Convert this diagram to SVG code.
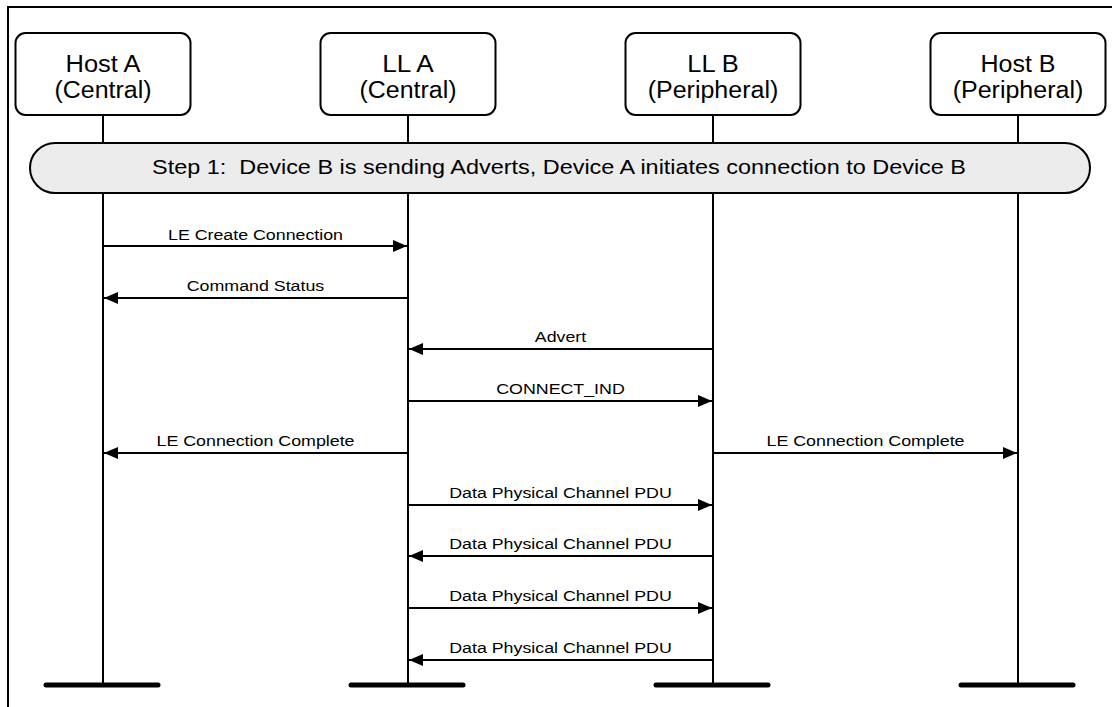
<svg xmlns="http://www.w3.org/2000/svg" width="1112" height="707" viewBox="0 0 1112 707">
<style>
.frame{fill:none;stroke:#000;stroke-width:2}
.box{fill:#fff;stroke:#000;stroke-width:2}
.life{stroke:#000;stroke-width:2}
.bar{stroke:#000;stroke-width:5;stroke-linecap:round}
.msg{stroke:#000;stroke-width:2;fill:none;marker-end:url(#ah)}
.t{font-family:"Liberation Sans",Arial,sans-serif;fill:#000;text-anchor:middle}
.nt{font-size:23px}
.bt{font-size:21px}
.mt{font-size:15.5px}
</style>
<defs>
<marker id="ah" viewBox="0 0 14 12" refX="14" refY="6" markerWidth="14" markerHeight="12" markerUnits="userSpaceOnUse" orient="auto">
<path d="M0,0 L14,6 L0,12 Z" fill="#000"/>
</marker>
</defs>
<rect width="1112" height="707" fill="#fff"/>
<path class="frame" d="M8,707 V7 H1112"/>
<g id="lifelines">
<line class="life" x1="103" y1="115" x2="103" y2="685"/>
<line class="life" x1="408" y1="115" x2="408" y2="685"/>
<line class="life" x1="713" y1="115" x2="713" y2="685"/>
<line class="life" x1="1018" y1="115" x2="1018" y2="685"/>
<line class="bar" x1="46" y1="685" x2="158" y2="685"/>
<line class="bar" x1="351" y1="685" x2="463" y2="685"/>
<line class="bar" x1="656" y1="685" x2="768" y2="685"/>
<line class="bar" x1="961" y1="685" x2="1073" y2="685"/>
</g>
<g id="hostA">
<rect class="box" x="15.5" y="33" width="175" height="82" rx="10"/>
<text class="t nt" x="103" y="71.5" textLength="75" lengthAdjust="spacingAndGlyphs">Host A</text>
<text class="t nt" x="103" y="98" textLength="97" lengthAdjust="spacingAndGlyphs">(Central)</text>
</g>
<g id="llA">
<rect class="box" x="320.5" y="33" width="175" height="82" rx="10"/>
<text class="t nt" x="408" y="71.5" textLength="51.4" lengthAdjust="spacingAndGlyphs">LL A</text>
<text class="t nt" x="408" y="98" textLength="97" lengthAdjust="spacingAndGlyphs">(Central)</text>
</g>
<g id="llB">
<rect class="box" x="625.5" y="33" width="175" height="82" rx="10"/>
<text class="t nt" x="713" y="71.5" textLength="51.4" lengthAdjust="spacingAndGlyphs">LL B</text>
<text class="t nt" x="713" y="98" textLength="130.6" lengthAdjust="spacingAndGlyphs">(Peripheral)</text>
</g>
<g id="hostB">
<rect class="box" x="930.5" y="33" width="175" height="82" rx="10"/>
<text class="t nt" x="1018" y="71.5" textLength="75" lengthAdjust="spacingAndGlyphs">Host B</text>
<text class="t nt" x="1018" y="98" textLength="130.6" lengthAdjust="spacingAndGlyphs">(Peripheral)</text>
</g>
<g id="step1">
<rect x="30" y="143" width="1060" height="50" rx="25" fill="#ececec" stroke="#000" stroke-width="2"/>
<text class="t bt" x="559" y="174" xml:space="preserve" textLength="814" lengthAdjust="spacingAndGlyphs">Step 1:  Device B is sending Adverts, Device A initiates connection to Device B</text>
</g>
<g id="connectors">
<line class="msg" x1="103" y1="246" x2="407" y2="246"/>
<text class="t mt" x="255.5" y="239.5" textLength="175" lengthAdjust="spacingAndGlyphs">LE Create Connection</text>
<line class="msg" x1="408" y1="298" x2="104" y2="298"/>
<text class="t mt" x="255.5" y="291" textLength="137.5" lengthAdjust="spacingAndGlyphs">Command Status</text>
<line class="msg" x1="713" y1="349" x2="409" y2="349"/>
<text class="t mt" x="560.5" y="342" textLength="51.4" lengthAdjust="spacingAndGlyphs">Advert</text>
<line class="msg" x1="408" y1="401" x2="712" y2="401"/>
<text class="t mt" x="560.5" y="394" textLength="128.5" lengthAdjust="spacingAndGlyphs">CONNECT_IND</text>
<line class="msg" x1="408" y1="453" x2="104" y2="453"/>
<text class="t mt" x="255.5" y="446" textLength="198" lengthAdjust="spacingAndGlyphs">LE Connection Complete</text>
<line class="msg" x1="713" y1="453" x2="1017" y2="453"/>
<text class="t mt" x="865.5" y="446" textLength="198" lengthAdjust="spacingAndGlyphs">LE Connection Complete</text>
<line class="msg" x1="408" y1="505" x2="712" y2="505"/>
<text class="t mt" x="560.5" y="498" textLength="222.6" lengthAdjust="spacingAndGlyphs">Data Physical Channel PDU</text>
<line class="msg" x1="713" y1="556" x2="409" y2="556"/>
<text class="t mt" x="560.5" y="549" textLength="222.6" lengthAdjust="spacingAndGlyphs">Data Physical Channel PDU</text>
<line class="msg" x1="408" y1="608" x2="712" y2="608"/>
<text class="t mt" x="560.5" y="601" textLength="222.6" lengthAdjust="spacingAndGlyphs">Data Physical Channel PDU</text>
<line class="msg" x1="713" y1="660" x2="409" y2="660"/>
<text class="t mt" x="560.5" y="653" textLength="222.6" lengthAdjust="spacingAndGlyphs">Data Physical Channel PDU</text>
</g>
</svg>
